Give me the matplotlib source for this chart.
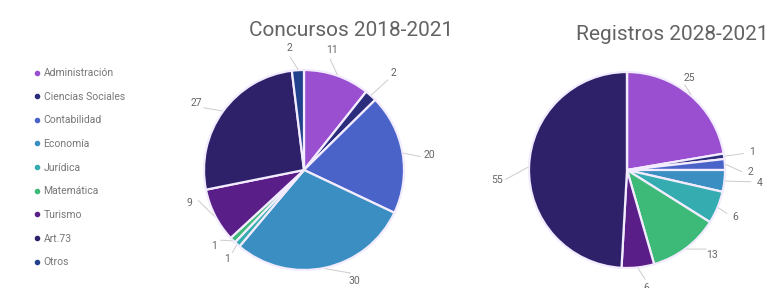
import matplotlib
matplotlib.use("Agg")
import matplotlib.pyplot as plt
import numpy as np
from matplotlib.lines import Line2D

plt.rcParams["font.family"] = ["Roboto", "DejaVu Sans"]

categories = ["Administración", "Ciencias Sociales", "Contabilidad", "Economía",
              "Jurídica", "Matemática", "Turismo", "Art.73", "Otros"]
colors = ["#9a4fd1", "#2b2c7c", "#4a63c9", "#3a8ec1", "#35adb0",
          "#3dba78", "#5a1e88", "#2f2169", "#22418c"]
concursos = [11, 2, 20, 30, 1, 1, 9, 27, 2]
registros = [25, 1, 2, 4, 6, 13, 6, 55, 0]

# label placement: angle nudge (deg) and distance from centre (in radii)
concursos_nudge = [-6, 1, 3, -12, -1, 4.5, 11, -4, -3.5]
concursos_dist = [1.23, 1.32, 1.26, 1.22, 1.18, 1.18, 1.19, 1.27, 1.23]
registros_nudge = [-6, 0, 4, -1, 1, -8, -3, -6, 0]
registros_dist = [1.14, 1.29, 1.26, 1.36, 1.2, 1.23, 1.22, 1.33, 1.2]

W, H = 780, 288
fig = plt.figure(figsize=(W / 100, H / 100), dpi=100)


def pie_axes(cx, cy, r):
    half = 1.35 * r
    ax = fig.add_axes([(cx - half) / W, 1 - (cy + half) / H, 2 * half / W, 2 * half / H])
    return ax


def draw_pie(ax, values, nudge, dist):
    wedges, _ = ax.pie(values, colors=colors, startangle=90, counterclock=False,
                       wedgeprops=dict(edgecolor="#f3ecff", linewidth=1.6))
    # pie() resets the limits, so set them afterwards (radius 1 = r px)
    ax.set_xlim(-1.35, 1.35)
    ax.set_ylim(-1.35, 1.35)
    ax.set_aspect("equal")
    ax.axis("off")
    for w, v, dn, d in zip(wedges, values, nudge, dist):
        if v == 0:
            continue
        mid = np.deg2rad((w.theta1 + w.theta2) / 2)
        lab = mid - np.deg2rad(dn)
        x0, y0 = np.cos(mid) * 1.01, np.sin(mid) * 1.01
        x1, y1 = np.cos(lab) * (d - 0.09), np.sin(lab) * (d - 0.09)
        ax.plot([x0, x1], [y0, y1], color="#cccccc", lw=0.7, clip_on=False)
        ax.text(np.cos(lab) * d, np.sin(lab) * d, str(v), ha="center", va="center",
                fontsize=7.5, color="#666666", clip_on=False)


ax1 = pie_axes(304, 170, 100)
draw_pie(ax1, concursos, concursos_nudge, concursos_dist)
ax2 = pie_axes(627, 170, 98)
draw_pie(ax2, registros, registros_nudge, registros_dist)

fig.text(351 / W, 1 - 30 / H, "Concursos 2018-2021", ha="center", va="center",
         fontsize=15, color="#636363")
fig.text(672 / W, 1 - 35 / H, "Registros 2028-2021", ha="center", va="center",
         fontsize=15, color="#636363")

handles = [Line2D([], [], marker="o", ls="", color=c, markersize=3) for c in colors]
fig.legend(handles, categories, loc="upper left", bbox_to_anchor=(28 / W, 1 - 64 / H),
           frameon=False, fontsize=7.5, labelcolor="#777777", handletextpad=0.1,
           labelspacing=1.31, handlelength=1.0, borderaxespad=0)

fig.savefig("out.png", dpi=100, facecolor="white")
